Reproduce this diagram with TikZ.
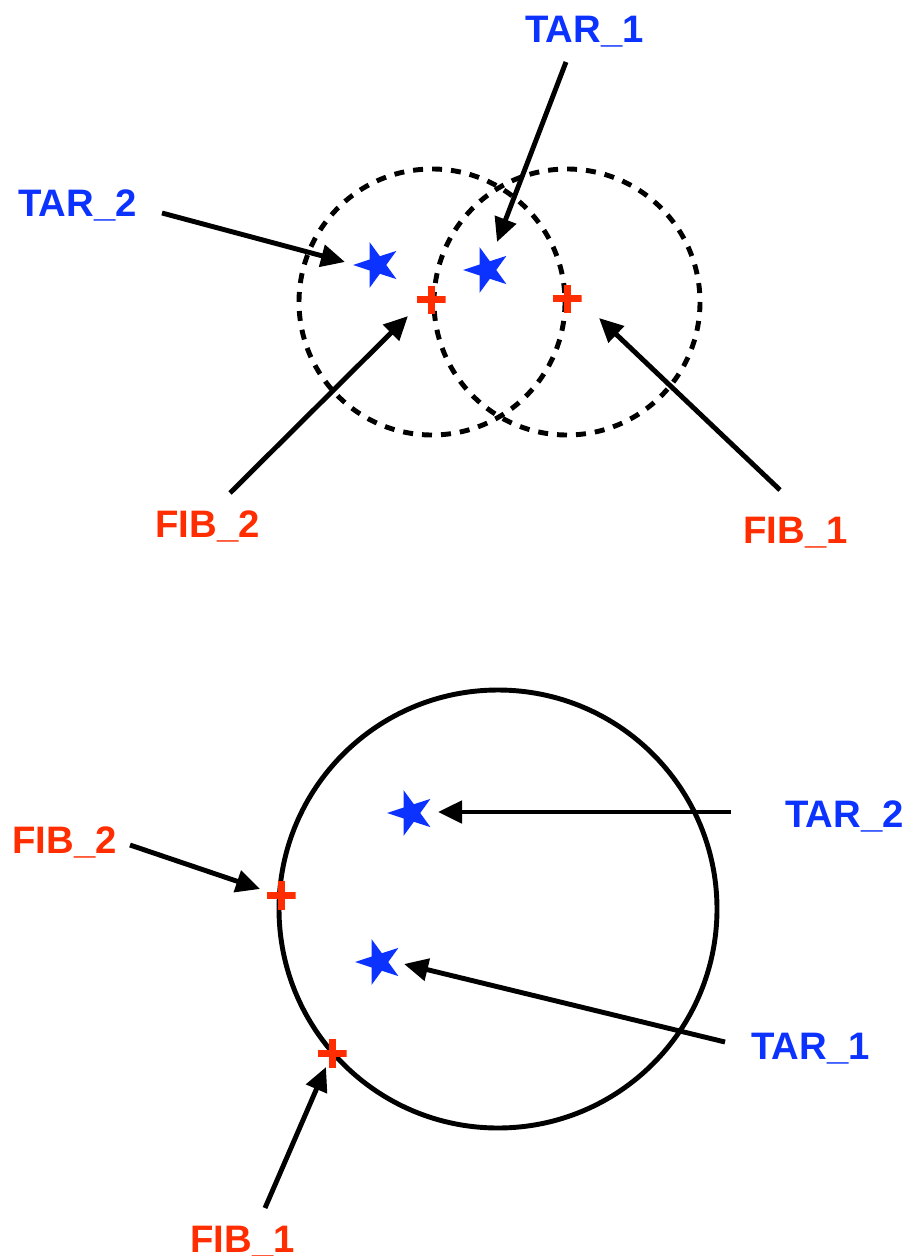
\documentclass[tikz,border=0pt]{standalone}
\usepackage{fontspec}
\setmainfont{Liberation Sans}
\usetikzlibrary{shapes.geometric,arrows.meta}
\definecolor{tarblue}{RGB}{12,50,255}
\definecolor{fibred}{RGB}{255,45,0}
\begin{document}
\begin{tikzpicture}[x=0.02cm,y=-0.02cm,
  lbl/.style={anchor=base west,inner sep=0pt,font=\fontsize{21.8pt}{26pt}\selectfont\bfseries},
  tar/.style={lbl,text=tarblue},
  fib/.style={lbl,text=fibred},
  starmark/.style={star,star points=5,star point ratio=2.6,minimum size=0.96cm,inner sep=0pt,fill=tarblue,draw=none,rotate=90},
  plusmark/.style={minimum size=0.58cm,inner sep=0pt,draw=none,
    path picture={\draw[fibred,line width=0.14cm] (path picture bounding box.north) -- (path picture bounding box.south);
                  \draw[fibred,line width=0.14cm] (path picture bounding box.west) -- (path picture bounding box.east);}},
  dcirc/.style={draw=black,line width=2.8pt,dash pattern=on 0.2cm off 0.18cm},
  scirc/.style={draw=black,line width=2.8pt},
  arr/.style={draw=black,line width=2.8pt,-{Triangle[length=0.48cm,width=0.44cm]}}]
\useasboundingbox (0,0) rectangle (913,1256);

% ---------- top part ----------
\draw[dcirc] (432,302) circle [radius=133];
\draw[dcirc] (567,302) circle [radius=133];

\node[starmark] (s2t) at (377,265) {};
\node[starmark] (s1t) at (487,270) {};
\node[plusmark] (p2t) at (431,300) {};
\node[plusmark] (p1t) at (567,299) {};

\node[tar] (tar1t) at (525,43) {TAR\_1};
\node[tar] (tar2t) at (18,217) {TAR\_2};
\node[fib] (fib2t) at (155,537) {FIB\_2};
\node[fib] (fib1t) at (743,543) {FIB\_1};

\coordinate (a1s) at (566,62);   \coordinate (a1e) at (497,242);
\coordinate (a2s) at (162,213);  \coordinate (a2e) at (345,262);
\coordinate (a3s) at (230,493);  \coordinate (a3e) at (408,316);
\coordinate (a4s) at (780,490);  \coordinate (a4e) at (599,318);
\draw[arr] (a1s) -- (a1e);
\draw[arr] (a2s) -- (a2e);
\draw[arr] (a3s) -- (a3e);
\draw[arr] (a4s) -- (a4e);

% ---------- bottom part ----------
\draw[scirc] (498,909) circle [radius=219];

\node[starmark] (s2b) at (411,813) {};
\node[starmark] (s1b) at (379,962) {};
\node[plusmark] (p2b) at (281,895) {};
\node[plusmark] (p1b) at (332,1053) {};

\node[tar] (tar2b) at (785,827) {TAR\_2};
\node[tar] (tar1b) at (751,1059) {TAR\_1};
\node[fib] (fib2b) at (12,853) {FIB\_2};
\node[fib] (fib1b) at (190,1252) {FIB\_1};

\coordinate (b1s) at (731,812);  \coordinate (b1e) at (438,812);
\coordinate (b2s) at (725,1042); \coordinate (b2e) at (404,964);
\coordinate (b3s) at (130,845);  \coordinate (b3e) at (260,889);
\coordinate (b4s) at (265,1208); \coordinate (b4e) at (326,1067);
\draw[arr] (b1s) -- (b1e);
\draw[arr] (b2s) -- (b2e);
\draw[arr] (b3s) -- (b3e);
\draw[arr] (b4s) -- (b4e);
\end{tikzpicture}
\end{document}
